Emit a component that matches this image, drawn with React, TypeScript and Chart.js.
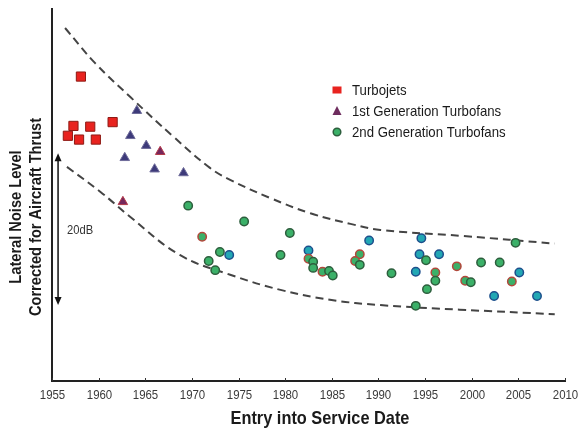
import { useEffect, useRef } from 'react';
import { Chart, registerables } from 'chart.js';

Chart.register(...registerables);

// ---------- data ----------
const xTickYears = [1955, 1960, 1965, 1970, 1975, 1980, 1985, 1990, 1995, 2000, 2005, 2010];

const seriesLabels = ['Turbojets', '1st Generation Turbofans', '2nd Generation Turbofans'];

const turbojetYears = [1958.1, 1957.3, 1956.7, 1957.9, 1959.1, 1959.7, 1961.5];
const turbojetLevels = [40.1, 33.6, 32.3, 31.8, 33.5, 31.8, 34.1];

const gen1Years = [1964.1, 1963.4, 1965.1, 1966.6, 1962.8, 1966.0, 1969.1, 1962.6];
const gen1Levels = [35.6, 32.3, 31.0, 30.2, 29.4, 27.9, 27.4, 23.6];
const gen1Tones = ['n', 'n', 'n', 'm', 'n', 'n', 'n', 'm'];

const gen2Years = [
  1969.6, 1975.6, 1971.1, 1973.0, 1974.0, 1971.8, 1972.5, 1980.5, 1979.5, 1982.5,
  1982.5, 1983.0, 1983.0, 1984.0, 1984.7, 1985.1, 1988.0, 1987.5, 1988.0, 1989.0,
  1994.6, 1994.4, 1995.1, 1996.5, 1991.4, 1994.0, 1996.1, 1996.1, 1995.2, 1998.4,
  2001.0, 2003.0, 1999.3, 1999.9, 2004.7, 2005.1, 2004.3, 2002.4, 2007.0, 1994.0,
];
const gen2Levels = [
  23.1, 21.0, 19.0, 17.0, 16.6, 15.8, 14.6, 19.5, 16.6, 17.2,
  16.1, 15.7, 14.9, 14.4, 14.5, 13.9, 16.7, 15.8, 15.3, 18.5,
  18.8, 16.7, 15.9, 16.7, 14.2, 14.4, 14.3, 13.2, 12.1, 15.1,
  15.6, 15.6, 13.2, 13.0, 18.2, 14.3, 13.1, 11.2, 11.2, 9.9,
];
const gen2Tones = [
  'g', 'g', 'r', 'g', 'b', 'g', 'g', 'g', 'g', 'b',
  'r', 'g', 'g', 'r', 'g', 'g', 'r', 'r', 'g', 'b',
  'b', 'b', 'g', 'b', 'g', 'b', 'r', 'g', 'g', 'r',
  'g', 'g', 'r', 'g', 'g', 'b', 'r', 'b', 'b', 'g',
];

const upperBoundYears = [1956.4, 1959.6, 1963.4, 1968.0, 1971.9, 1974.1, 1978.4, 1982.7, 1987.0, 1990.2, 1999.1, 2008.9];
const upperBoundLevels = [46.5, 41.9, 37.4, 32.2, 28.1, 26.5, 24.1, 22.1, 20.7, 19.9, 19.1, 18.1];

const lowerBoundYears = [1956.6, 1960.2, 1963.4, 1968.7, 1974.1, 1979.5, 1984.8, 1990.2, 1998.7, 2008.9];
const lowerBoundLevels = [28.2, 24.9, 21.6, 16.6, 14.0, 12.0, 10.7, 10.0, 9.4, 8.8];

const spanYear = 1955.65;
const spanLevels = [10, 30];
const spanLabel = '20dB';

const xTitle = 'Entry into Service Date';
const yTitleLines = ['Lateral Noise Level', 'Corrected for Aircraft Thrust'];

// ---------- styles ----------
const SANS = "'Liberation Sans Narrow', 'Liberation Sans', Arial, sans-serif";

const gen1Fill: Record<string, string> = { n: '#3d3a7a', m: '#76285c' };
const gen1Border: Record<string, string> = { n: '#6f6c9a', m: '#b43a4a' };
const gen2Fill: Record<string, string> = { g: '#3bb068', r: '#3bb068', b: '#22a7b4' };
const gen2Border: Record<string, string> = { g: '#2d5e3d', r: '#b2473b', b: '#1d4f8c' };

function narrowText(
  ctx: CanvasRenderingContext2D,
  text: string,
  x: number,
  y: number,
  font: string,
  sx: number,
  align: CanvasTextAlign,
  color: string,
) {
  ctx.save();
  ctx.font = font;
  ctx.fillStyle = color;
  ctx.textAlign = align;
  ctx.textBaseline = 'middle';
  ctx.translate(x, y);
  ctx.scale(sx, 1);
  ctx.fillText(text, 0, 0);
  ctx.restore();
}

const overlayPlugin = {
  id: 'overlay',
  afterDraw(chart: any) {
    const { ctx, chartArea, scales } = chart;
    const xs = scales.x;
    const ys = scales.y;
    ctx.save();

    // inner x tick marks + tick labels
    ctx.strokeStyle = '#333';
    ctx.lineWidth = 1;
    xTickYears.forEach((yr) => {
      const px = Math.round(xs.getPixelForValue(yr)) + 0.5;
      ctx.beginPath();
      ctx.moveTo(px, chartArea.bottom - 3);
      ctx.lineTo(px, chartArea.bottom);
      ctx.stroke();
      narrowText(ctx, String(yr), px, chartArea.bottom + 14, `13px ${SANS}`, 0.88, 'center', '#3a3a3a');
    });

    // x title
    narrowText(ctx, xTitle, 320, 419, `bold 19px ${SANS}`, 0.86, 'center', '#1a1a1a');

    // y title
    ctx.save();
    ctx.translate(16, 217);
    ctx.rotate(-Math.PI / 2);
    narrowText(ctx, yTitleLines[0], 0, 0, `bold 17px ${SANS}`, 0.86, 'center', '#1a1a1a');
    narrowText(ctx, yTitleLines[1], 0, 20, `bold 17px ${SANS}`, 0.86, 'center', '#1a1a1a');
    ctx.restore();

    // span arrow
    const ax = xs.getPixelForValue(spanYear);
    const yTop = ys.getPixelForValue(spanLevels[1]);
    const yBot = ys.getPixelForValue(spanLevels[0]);
    ctx.strokeStyle = '#111';
    ctx.fillStyle = '#111';
    ctx.lineWidth = 1.5;
    ctx.beginPath();
    ctx.moveTo(ax, yTop + 6);
    ctx.lineTo(ax, yBot - 6);
    ctx.stroke();
    ctx.beginPath();
    ctx.moveTo(ax, yTop);
    ctx.lineTo(ax - 3.5, yTop + 8);
    ctx.lineTo(ax + 3.5, yTop + 8);
    ctx.closePath();
    ctx.fill();
    ctx.beginPath();
    ctx.moveTo(ax, yBot);
    ctx.lineTo(ax - 3.5, yBot - 8);
    ctx.lineTo(ax + 3.5, yBot - 8);
    ctx.closePath();
    ctx.fill();
    narrowText(ctx, spanLabel, ax + 9, (yTop + yBot) / 2 + 1, `13px ${SANS}`, 0.86, 'left', '#333');

    // legend
    const lx = 337;
    const rows = [90, 111, 132];
    ctx.fillStyle = '#e8231f';
    ctx.fillRect(lx - 4.5, rows[0] - 3.5, 9, 7);
    ctx.fillStyle = '#6e2c5e';
    ctx.beginPath();
    ctx.moveTo(lx, rows[1] - 5);
    ctx.lineTo(lx - 4.5, rows[1] + 4);
    ctx.lineTo(lx + 4.5, rows[1] + 4);
    ctx.closePath();
    ctx.fill();
    ctx.fillStyle = '#3bb068';
    ctx.strokeStyle = '#2d5e3d';
    ctx.lineWidth = 1.5;
    ctx.beginPath();
    ctx.arc(lx, rows[2], 3.8, 0, Math.PI * 2);
    ctx.fill();
    ctx.stroke();
    seriesLabels.forEach((t, i) =>
      narrowText(ctx, t, 352, rows[i] + 1, `15px ${SANS}`, 0.88, 'left', '#1a1a1a'),
    );

    ctx.restore();
  },
};

export default function App() {
  const canvasRef = useRef<HTMLCanvasElement | null>(null);

  useEffect(() => {
    document.body.style.margin = '0';
    const canvas = canvasRef.current;
    if (!canvas) return;

    const chart = new Chart(canvas, {
      type: 'scatter',
      data: {
        datasets: [
          {
            label: seriesLabels[0],
            data: turbojetYears.map((x, i) => ({ x, y: turbojetLevels[i] })),
            pointStyle: 'rect',
            pointRadius: 6.5,
            backgroundColor: '#e8231f',
            borderColor: '#8e1a14',
            borderWidth: 1,
          },
          {
            label: seriesLabels[1],
            data: gen1Years.map((x, i) => ({ x, y: gen1Levels[i] })),
            pointStyle: 'triangle',
            pointRadius: 5.5,
            backgroundColor: gen1Tones.map((t) => gen1Fill[t]),
            borderColor: gen1Tones.map((t) => gen1Border[t]),
            borderWidth: 1,
          },
          {
            label: seriesLabels[2],
            data: gen2Years.map((x, i) => ({ x, y: gen2Levels[i] })),
            pointStyle: 'circle',
            pointRadius: 4.2,
            backgroundColor: gen2Tones.map((t) => gen2Fill[t]),
            borderColor: gen2Tones.map((t) => gen2Border[t]),
            borderWidth: 1.5,
          },
          {
            type: 'line',
            label: 'upper',
            data: upperBoundYears.map((x, i) => ({ x, y: upperBoundLevels[i] })),
            borderColor: '#444',
            borderWidth: 2,
            borderDash: [8, 5],
            pointRadius: 0,
            tension: 0.4,
            fill: false,
          },
          {
            type: 'line',
            label: 'lower',
            data: lowerBoundYears.map((x, i) => ({ x, y: lowerBoundLevels[i] })),
            borderColor: '#444',
            borderWidth: 2,
            borderDash: [8, 5],
            pointRadius: 0,
            tension: 0.4,
            fill: false,
          },
        ] as any,
      },
      options: {
        animation: false,
        responsive: false,
        maintainAspectRatio: false,
        layout: { padding: { top: 9, right: 13, left: 0, bottom: 0 } },
        plugins: { legend: { display: false }, tooltip: { enabled: false } },
        scales: {
          x: {
            type: 'linear',
            min: 1955,
            max: 2010,
            afterBuildTicks: (scale: any) => {
              scale.ticks = xTickYears.map((v) => ({ value: v }));
            },
            afterFit: (scale: any) => {
              scale.height = 50;
            },
            ticks: { display: false },
            grid: { display: true, drawOnChartArea: false, drawTicks: false },
            border: { display: true, color: '#222', width: 2 },
          },
          y: {
            type: 'linear',
            min: 0,
            max: 49,
            afterFit: (scale: any) => {
              scale.width = 52;
            },
            ticks: { display: false },
            grid: { display: true, drawOnChartArea: false, drawTicks: false },
            border: { display: true, color: '#222', width: 2 },
          },
        },
      } as any,
      plugins: [overlayPlugin],
    });

    return () => chart.destroy();
  }, []);

  return (
    <div style={{ width: 578, height: 431, background: '#fff' }}>
      <canvas ref={canvasRef} width={578} height={431} style={{ display: 'block' }} />
    </div>
  );
}
